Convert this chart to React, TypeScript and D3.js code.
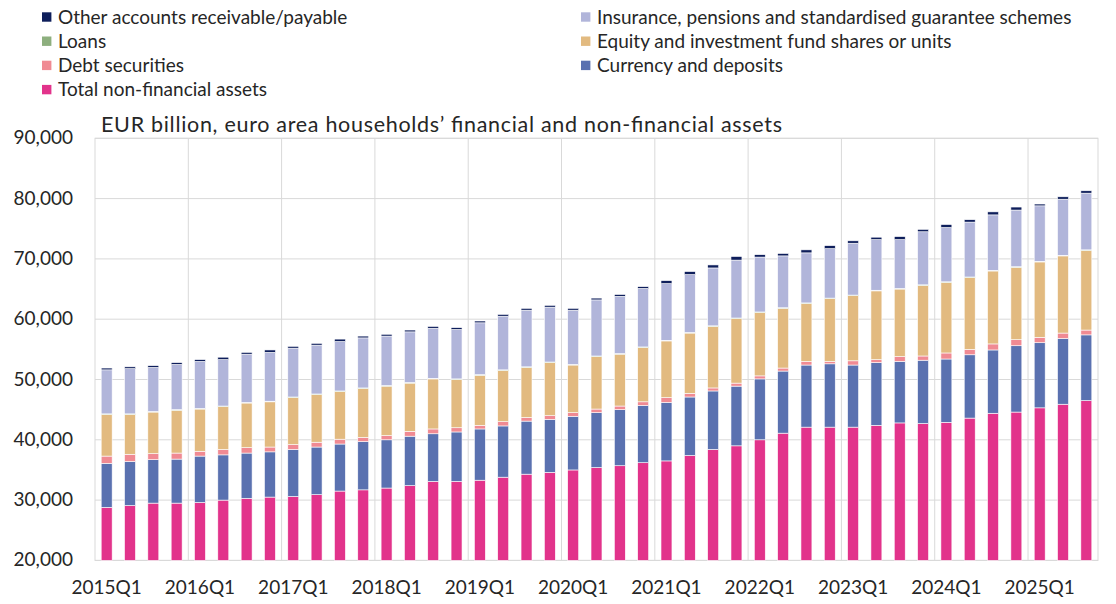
import React from "react";
import * as d3 from "d3";

const quarters = [
  "2015Q1", "2015Q2", "2015Q3", "2015Q4",
  "2016Q1", "2016Q2", "2016Q3", "2016Q4",
  "2017Q1", "2017Q2", "2017Q3", "2017Q4",
  "2018Q1", "2018Q2", "2018Q3", "2018Q4",
  "2019Q1", "2019Q2", "2019Q3", "2019Q4",
  "2020Q1", "2020Q2", "2020Q3", "2020Q4",
  "2021Q1", "2021Q2", "2021Q3", "2021Q4",
  "2022Q1", "2022Q2", "2022Q3", "2022Q4",
  "2023Q1", "2023Q2", "2023Q3", "2023Q4",
  "2024Q1", "2024Q2", "2024Q3", "2024Q4",
  "2025Q1", "2025Q2", "2025Q3",
];

const xTickLabels = [
  "2015Q1", "2016Q1", "2017Q1", "2018Q1", "2019Q1", "2020Q1",
  "2021Q1", "2022Q1", "2023Q1", "2024Q1", "2025Q1",
];

const yTicks = [20000, 30000, 40000, 50000, 60000, 70000, 80000, 90000];

const nonFinancial = [
  28800, 29100, 29500, 29500, 29600, 30000, 30300, 30500,
  30600, 30900, 31500, 31700, 32000, 32400, 33100, 33100,
  33300, 33800, 34300, 34600, 35000, 35400, 35700, 36200,
  36500, 37400, 38400, 39000, 40000, 41100, 42100, 42100,
  42100, 42400, 42800, 42700, 42900, 43600, 44400, 44600,
  45300, 45900, 46500,
];

const currencyDeposits = [
  7300, 7300, 7200, 7300, 7700, 7500, 7500, 7500,
  7800, 7900, 7800, 8000, 8000, 8200, 7900, 8200,
  8500, 8500, 8800, 8800, 8900, 9100, 9300, 9500,
  9700, 9700, 9700, 9900, 10100, 10300, 10300, 10500,
  10300, 10400, 10200, 10500, 10500, 10500, 10500, 11000,
  10800, 10900, 10900,
];

const debtSecurities = [
  1200, 1200, 1000, 1000, 800, 900, 900, 800,
  800, 800, 800, 700, 700, 800, 800, 700,
  600, 700, 600, 600, 600, 600, 600, 600,
  800, 600, 500, 500, 500, 500, 600, 400,
  700, 500, 800, 700, 1000, 900, 1000, 1000,
  900, 900, 800,
];

const equityFunds = [
  6900, 6600, 6900, 7100, 7000, 7100, 7400, 7500,
  7800, 7900, 7900, 8100, 8200, 8000, 8300, 8000,
  8300, 8500, 8300, 8800, 7900, 8700, 8600, 9000,
  9400, 10000, 10200, 10700, 10500, 9900, 9600, 10400,
  10800, 11400, 11200, 11700, 11700, 11900, 12100, 12000,
  12500, 12800, 13200,
];

const loans = [
  100, 100, 100, 100, 100, 100, 100, 100,
  100, 100, 100, 100, 100, 100, 100, 100,
  100, 100, 100, 100, 100, 100, 100, 100,
  100, 100, 100, 100, 100, 100, 100, 100,
  100, 100, 100, 100, 100, 100, 100, 100,
  100, 100, 100,
];

const insurancePensions = [
  7300, 7500, 7300, 7500, 7800, 7700, 8000, 8100,
  8100, 8100, 8200, 8300, 8200, 8400, 8300, 8200,
  8600, 8900, 9400, 9100, 9000, 9300, 9500, 9700,
  9400, 9600, 9600, 9600, 9100, 8600, 8300, 8200,
  8600, 8400, 8100, 8800, 9000, 9100, 9200, 9400,
  9200, 9300, 9400,
];

const otherAccounts = [
  300, 300, 300, 300, 300, 400, 300, 400,
  300, 300, 400, 300, 300, 300, 300, 300,
  300, 300, 300, 300, 300, 300, 300, 300,
  500, 500, 500, 600, 400, 400, 500, 500,
  400, 400, 500, 400, 500, 400, 500, 500,
  300, 400, 400,
];

// stacking order, bottom to top
const stackKeys = [
  "nonFinancial",
  "currencyDeposits",
  "debtSecurities",
  "equityFunds",
  "loans",
  "insurancePensions",
  "otherAccounts",
];

const seriesColors: Record<string, string> = {
  nonFinancial: "#E2338B",
  currencyDeposits: "#5A71B0",
  debtSecurities: "#F08A93",
  equityFunds: "#E2BA80",
  loans: "#8DAF7E",
  insurancePensions: "#B1B5DA",
  otherAccounts: "#0E1E5B",
};

const seriesLabels: Record<string, string> = {
  nonFinancial: "Total non-financial assets",
  currencyDeposits: "Currency and deposits",
  debtSecurities: "Debt securities",
  equityFunds: "Equity and investment fund shares or units",
  loans: "Loans",
  insurancePensions: "Insurance, pensions and standardised guarantee schemes",
  otherAccounts: "Other accounts receivable/payable",
};

const legendLeft = ["otherAccounts", "loans", "debtSecurities", "nonFinancial"];
const legendRight = ["insurancePensions", "equityFunds", "currencyDeposits"];

const title = "EUR billion, euro area households\u2019 financial and non-financial assets";

export default function App() {
  const W = 1116;
  const H = 604;
  const plotLeft = 95;
  const plotRight = 1098;
  const plotTop = 138.3;
  const plotBottom = 560.4;
  const font = "Lato, 'Open Sans', sans-serif";
  const textColor = "#262626";
  const gridColor = "#d9d9d9";

  const x = d3
    .scaleBand<string>()
    .domain(quarters)
    .range([plotLeft, plotRight])
    .paddingInner(0.53)
    .paddingOuter(0.265);
  const y = d3
    .scaleLinear()
    .domain([20000, 90000])
    .range([plotBottom, plotTop])
    .clamp(true);

  const seriesData: Record<string, number[]> = {
    nonFinancial,
    currencyDeposits,
    debtSecurities,
    equityFunds,
    loans,
    insurancePensions,
    otherAccounts,
  };

  const rows = quarters.map((q, i) => {
    const r: any = { q };
    stackKeys.forEach((k) => (r[k] = seriesData[k][i]));
    return r;
  });

  const stacked = d3.stack<any>().keys(stackKeys)(rows);
  const gap = (x.step() - x.bandwidth()) / 2;
  const fmt = d3.format(",");

  const yearBoundaries = quarters
    .map((q, i) => ({ q, i }))
    .filter((d) => d.i > 0 && d.i % 4 === 0)
    .map((d) => (x(d.q) as number) - gap);

  const legendItem = (key: string, lx: number, ly: number) => (
    <g key={key}>
      <rect x={lx} y={ly - 4.7} width={9.4} height={9.4} fill={seriesColors[key]} />
      <text x={lx + 16} y={ly + 6.5} fontSize={19} fill={textColor} fontFamily={font}>
        {seriesLabels[key]}
      </text>
    </g>
  );

  return (
    <div style={{ position: "absolute", left: 0, top: 0 }}>
      <svg width={W} height={H} style={{ display: "block", background: "#fff" }}>
        {/* legend */}
        {legendLeft.map((k, i) => legendItem(k, 42, 17 + i * 24.2))}
        {legendRight.map((k, i) => legendItem(k, 581, 17 + i * 24.2))}

        {/* title */}
        <text
          x={101}
          y={132}
          fontSize={21.5}
          fill={textColor}
          fontFamily={font}
          textLength={681}
          lengthAdjust="spacing"
        >
          {title}
        </text>

        {/* horizontal grid */}
        {yTicks.map((t) => (
          <line
            key={"h" + t}
            x1={plotLeft}
            x2={plotRight}
            y1={y(t)}
            y2={y(t)}
            stroke={gridColor}
            strokeWidth={1}
          />
        ))}
        {/* vertical grid */}
        {yearBoundaries.map((bx, i) => (
          <line
            key={"v" + i}
            x1={bx}
            x2={bx}
            y1={plotTop}
            y2={plotBottom}
            stroke={gridColor}
            strokeWidth={1}
          />
        ))}
        <rect
          x={plotLeft}
          y={plotTop}
          width={plotRight - plotLeft}
          height={plotBottom - plotTop}
          fill="none"
          stroke={gridColor}
          strokeWidth={1}
        />

        {/* bars */}
        {stacked.map((layer) => (
          <g key={layer.key} fill={seriesColors[layer.key]}>
            {layer.map((d, i) => {
              const y0 = y(d[0]);
              const y1 = y(d[1]);
              return (
                <rect
                  key={i}
                  x={x(quarters[i])}
                  y={y1}
                  width={x.bandwidth()}
                  height={Math.max(0, y0 - y1)}
                  stroke="#ffffff"
                  strokeWidth={0.6}
                />
              );
            })}
          </g>
        ))}

        {/* y axis labels */}
        {yTicks.map((t) => (
          <text
            key={"yl" + t}
            x={73}
            y={y(t) + 6}
            textAnchor="end"
            fontSize={19}
            fill={textColor}
            fontFamily={font}
          >
            {fmt(t)}
          </text>
        ))}

        {/* x axis labels */}
        {xTickLabels.map((lbl) => (
          <text
            key={"xl" + lbl}
            x={(x(lbl) as number) + x.bandwidth() / 2}
            y={594}
            textAnchor="middle"
            fontSize={19}
            fill={textColor}
            fontFamily={font}
          >
            {lbl}
          </text>
        ))}
      </svg>
    </div>
  );
}
